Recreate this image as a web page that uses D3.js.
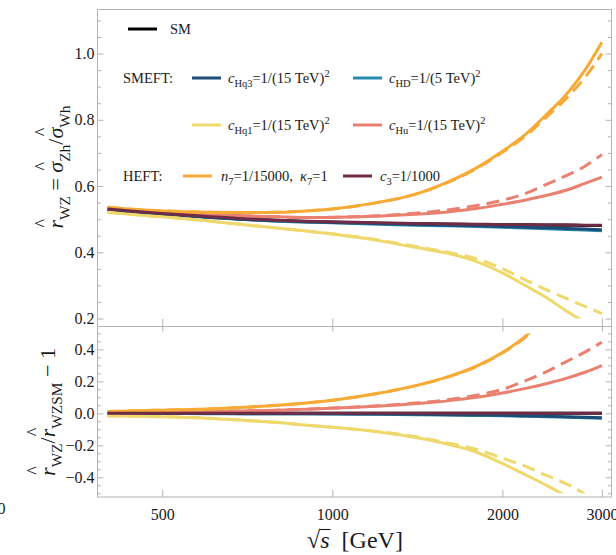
<!DOCTYPE html>
<html>
<head>
<meta charset="utf-8">
<script src="https://cdn.jsdelivr.net/npm/d3@7"></script>
<style>
  html, body { margin: 0; padding: 0; background: #fff; }
  svg { display: block; font-family: "Liberation Serif", "Times New Roman", serif; }
</style>
</head>
<body>
<svg id="chart" width="616" height="555"></svg>
<script>
// Centre-of-mass energies (GeV) at which every curve is tabulated
const energies = [400, 450, 500, 600, 700, 800, 900, 1000, 1200, 1400, 1600, 1800, 2000, 2200, 2400, 2600, 2800, 3000];

// Upper panel: r_WZ = sigma_Zh / sigma_Wh
const ratioSM        = [0.530, 0.522, 0.516, 0.507, 0.500, 0.496, 0.493, 0.491, 0.488, 0.486, 0.485, 0.484, 0.483, 0.483, 0.482, 0.482, 0.481, 0.481];
const ratioHD        = [0.529, 0.521, 0.515, 0.506, 0.499, 0.494, 0.491, 0.489, 0.485, 0.482, 0.480, 0.478, 0.476, 0.473, 0.471, 0.469, 0.467, 0.465];
const ratioHq3       = [0.529, 0.521, 0.515, 0.506, 0.499, 0.495, 0.492, 0.490, 0.487, 0.484, 0.482, 0.480, 0.478, 0.476, 0.474, 0.472, 0.470, 0.468];
const ratioHq1       = [0.521, 0.513, 0.507, 0.495, 0.483, 0.473, 0.464, 0.455, 0.436, 0.415, 0.397, 0.372, 0.338, 0.299, 0.262, 0.222, 0.189, null];
const ratioHq1Dashed = [0.521, 0.513, 0.507, 0.495, 0.483, 0.473, 0.464, 0.456, 0.438, 0.418, 0.400, 0.380, 0.351, 0.316, 0.286, 0.260, 0.237, 0.215];
const ratioHu        = [0.532, 0.527, 0.522, 0.515, 0.510, 0.507, 0.505, 0.505, 0.509, 0.515, 0.522, 0.532, 0.545, 0.558, 0.572, 0.588, 0.608, 0.627];
const ratioHuDashed  = [0.532, 0.527, 0.522, 0.515, 0.510, 0.507, 0.505, 0.506, 0.510, 0.518, 0.528, 0.541, 0.557, 0.578, 0.606, 0.632, 0.660, 0.695];
const ratioN7        = [0.536, 0.529, 0.525, 0.521, 0.520, 0.521, 0.525, 0.531, 0.550, 0.575, 0.612, 0.655, 0.705, 0.757, 0.818, 0.878, 0.950, 1.034];
const ratioN7Dashed  = [0.536, 0.529, 0.525, 0.521, 0.520, 0.521, 0.525, 0.531, 0.550, 0.575, 0.611, 0.653, 0.702, 0.752, 0.810, 0.866, 0.928, 1.000];
const ratioC3        = [0.531, 0.523, 0.517, 0.508, 0.501, 0.497, 0.494, 0.492, 0.489, 0.487, 0.486, 0.485, 0.484, 0.484, 0.483, 0.483, 0.482, 0.482];

// Lower panel: relative deviation from the SM ratio
const devSM        = [0, 0, 0, 0, 0, 0, 0, 0, 0, 0, 0, 0, 0, 0, 0, 0, 0, 0];
const devHD        = [0, -0.001, -0.001, -0.002, -0.002, -0.003, -0.003, -0.004, -0.006, -0.008, -0.010, -0.013, -0.015, -0.018, -0.021, -0.024, -0.027, -0.030];
const devHq3       = [0, -0.001, -0.001, -0.001, -0.002, -0.002, -0.002, -0.003, -0.004, -0.006, -0.008, -0.010, -0.012, -0.015, -0.018, -0.021, -0.024, -0.027];
const devHq1       = [-0.015, -0.018, -0.021, -0.030, -0.044, -0.057, -0.074, -0.087, -0.115, -0.150, -0.193, -0.243, -0.313, -0.385, -0.452, -0.520, null, null];
const devHq1Dashed = [-0.015, -0.018, -0.021, -0.030, -0.044, -0.057, -0.074, -0.087, -0.113, -0.145, -0.185, -0.225, -0.280, -0.332, -0.390, -0.442, -0.505, null];
const devHu        = [0.003, 0.005, 0.007, 0.011, 0.015, 0.020, 0.026, 0.032, 0.045, 0.060, 0.078, 0.100, 0.127, 0.156, 0.187, 0.220, 0.257, 0.299];
const devHuDashed  = [0.003, 0.005, 0.007, 0.011, 0.015, 0.020, 0.026, 0.033, 0.047, 0.064, 0.085, 0.113, 0.150, 0.205, 0.262, 0.325, 0.383, 0.445];
const devN7        = [0.012, 0.016, 0.020, 0.027, 0.038, 0.050, 0.065, 0.082, 0.124, 0.172, 0.228, 0.295, 0.380, 0.484, 0.620, null, null, null];
const devN7Dashed  = [0.012, 0.016, 0.020, 0.027, 0.038, 0.050, 0.065, 0.082, 0.124, 0.172, 0.227, 0.293, 0.377, 0.478, 0.610, null, null, null];
const devC3        = [0.001, 0.001, 0.001, 0.001, 0.001, 0.001, 0.001, 0.001, 0.001, 0.001, 0.001, 0.001, 0.001, 0.001, 0.001, 0.001, 0.001, 0.001];

// Tick values and labels
const xTicks = [500, 1000, 2000, 3000];
const topTicks = [0.2, 0.4, 0.6, 0.8, 1.0];
const bottomTicks = [-0.4, -0.2, 0.0, 0.2, 0.4];

// Series colours
const colors = {
  SM: "#000000",
  Hq3: "#1d4c77",
  HD: "#2a8bb0",
  Hq1: "#efd86c",
  Hu: "#e98070",
  N7: "#f8aa36",
  C3: "#6e2c46"
};

// Legend labels (non-breaking spaces keep the wider gaps)
const legendSM = "SM";
const legendSMEFT = "SMEFT:";
const legendHEFT = "HEFT:";
const labelHq3 = [{t: "c", i: 1}, {t: "Hq3", s: "sub"}, {t: "=1/(15\u00a0TeV)"}, {t: "2", s: "sup"}];
const labelHD  = [{t: "c", i: 1}, {t: "HD", s: "sub"}, {t: "=1/(5\u00a0TeV)"}, {t: "2", s: "sup"}];
const labelHq1 = [{t: "c", i: 1}, {t: "Hq1", s: "sub"}, {t: "=1/(15\u00a0TeV)"}, {t: "2", s: "sup"}];
const labelHu  = [{t: "c", i: 1}, {t: "Hu", s: "sub"}, {t: "=1/(15\u00a0TeV)"}, {t: "2", s: "sup"}];
const labelN7  = [{t: "n", i: 1}, {t: "7", s: "sub"}, {t: "=1/15000,\u00a0\u00a0"}, {t: "κ", i: 1}, {t: "7", s: "sub"}, {t: "=1"}];
const labelC3  = [{t: "c", i: 1}, {t: "3", s: "sub"}, {t: "=1/1000"}];

const topAxisLabel = [{t: "r", i: 1, hat: 1}, {t: "WZ", s: "sub"}, {t: "\u00a0=\u00a0"}, {t: "σ", i: 1, hat: 1}, {t: "Zh", s: "sub"}, {t: "/"}, {t: "σ", i: 1, hat: 1}, {t: "Wh", s: "sub"}];
const bottomAxisLabel = [{t: "r", i: 1, hat: 1}, {t: "WZ", s: "sub"}, {t: "/"}, {t: "r", i: 1, hat: 1}, {t: "WZSM", s: "sub"}, {t: "\u00a0−\u00a01"}];
const xAxisLabel = [{t: "√"}, {t: "s", i: 1}, {t: "\u00a0\u00a0[GeV]"}];

// ---------------------------------------------------------------------------
const svg = d3.select("#chart");
const frameColor = "#b3b3b3";
const textColor = "#1a1a1a";

const plotLeft = 97.5, plotRight = 611.5, plotTop = 9.5, plotMid = 326.5, plotBottom = 497;

const x = d3.scaleLog().domain([384, 3120]).range([plotLeft, plotRight]);
const yTop = d3.scaleLinear().domain([0.176, 1.133]).range([plotMid, plotTop]);
const yBot = d3.scaleLinear().domain([-0.523, 0.543]).range([plotBottom, plotMid]);

// Plot ranges used to clip the curves
const topRange = [0.2, 1.133];
const botRange = [-0.5, 0.5];

const defs = svg.append("defs");
defs.append("clipPath").attr("id", "clipTop").append("rect")
  .attr("x", plotLeft).attr("width", plotRight - plotLeft)
  .attr("y", yTop(topRange[1])).attr("height", yTop(topRange[0]) - yTop(topRange[1]));
defs.append("clipPath").attr("id", "clipBot").append("rect")
  .attr("x", plotLeft).attr("width", plotRight - plotLeft)
  .attr("y", yBot(botRange[1])).attr("height", yBot(botRange[0]) - yBot(botRange[1]));

// Rich text: italic pieces, sub- and superscripts
function rich(textSel, parts, size, subScale) {
  const sc = subScale || 0.72;
  let shift = 0, index = 0;
  const hats = [];
  parts.forEach(p => {
    let target = 0, fs = size;
    if (p.s === "sub") { target = size * 0.3; fs = size * sc; }
    if (p.s === "sup") { target = -size * 0.4; fs = size * sc; }
    const ts = textSel.append("tspan").text(p.t).attr("font-size", fs);
    if (target - shift !== 0) ts.attr("dy", target - shift);
    if (p.i) ts.attr("font-style", "italic");
    shift = target;
    if (p.hat) hats.push(index);
    index += p.t.length;
  });
  return hats;
}

// ---------------- curves ----------------
function drawSeries(values, yScale, clipId, color, dashed) {
  const pts = energies.map((e, i) => [e, values[i]]);
  const line = d3.line()
    .defined(d => d[1] !== null)
    .x(d => x(d[0]))
    .y(d => yScale(d[1]))
    .curve(d3.curveMonotoneX);
  svg.append("path")
    .attr("clip-path", `url(#${clipId})`)
    .attr("d", line(pts))
    .attr("fill", "none")
    .attr("stroke", color)
    .attr("stroke-width", 3)
    .attr("stroke-linejoin", "round")
    .attr("stroke-dasharray", dashed ? "13,7" : null);
}

// drawing order: dashed variants under the c3 curve, which sits on top
const topSeries = [
  [ratioSM, colors.SM, false], [ratioHD, colors.HD, false], [ratioHq3, colors.Hq3, false],
  [ratioHq1, colors.Hq1, false], [ratioHq1Dashed, colors.Hq1, true],
  [ratioHu, colors.Hu, false], [ratioHuDashed, colors.Hu, true],
  [ratioN7, colors.N7, false], [ratioN7Dashed, colors.N7, true],
  [ratioC3, colors.C3, false]
];
const botSeries = [
  [devSM, colors.SM, false], [devHD, colors.HD, false], [devHq3, colors.Hq3, false],
  [devHq1, colors.Hq1, false], [devHq1Dashed, colors.Hq1, true],
  [devHu, colors.Hu, false], [devHuDashed, colors.Hu, true],
  [devN7, colors.N7, false], [devN7Dashed, colors.N7, true],
  [devC3, colors.C3, false]
];
topSeries.forEach(s => drawSeries(s[0], yTop, "clipTop", s[1], s[2]));
botSeries.forEach(s => drawSeries(s[0], yBot, "clipBot", s[1], s[2]));

// ---------------- frames ----------------
svg.append("rect").attr("x", plotLeft).attr("y", plotTop).attr("width", plotRight - plotLeft).attr("height", plotMid - plotTop)
  .attr("fill", "none").attr("stroke", frameColor);
svg.append("rect").attr("x", plotLeft).attr("y", plotMid).attr("width", plotRight - plotLeft).attr("height", plotBottom - plotMid)
  .attr("fill", "none").attr("stroke", frameColor);

// ---------------- axes ----------------
function styleAxis(g) {
  g.select(".domain").remove();
  g.selectAll(".tick line").attr("stroke", frameColor);
  g.selectAll(".tick text").attr("fill", textColor)
    .style("font-family", '"Liberation Serif", "Times New Roman", serif').attr("font-size", 16);
}
const fmt = d3.format(".1f");
const isMajor = (v, majors) => majors.some(m => Math.abs(m - v) < 1e-6);

function yAxes(scale, majors, minorFrom, minorTo) {
  const minors = d3.range(minorFrom, minorTo + 1e-6, 0.05).filter(v => !isMajor(v, majors));
  svg.append("g").attr("transform", `translate(${plotLeft},0)`)
    .call(d3.axisLeft(scale).tickValues(minors).tickSizeInner(-3.5).tickSizeOuter(0).tickFormat(""))
    .call(styleAxis);
  svg.append("g").attr("transform", `translate(${plotRight},0)`)
    .call(d3.axisRight(scale).tickValues(minors).tickSizeInner(-3.5).tickSizeOuter(0).tickFormat(""))
    .call(styleAxis);
  svg.append("g").attr("transform", `translate(${plotLeft},0)`)
    .call(d3.axisLeft(scale).tickValues(majors).tickSizeInner(-6).tickSizeOuter(0).tickPadding(3).tickFormat(fmt))
    .call(styleAxis);
  svg.append("g").attr("transform", `translate(${plotRight},0)`)
    .call(d3.axisRight(scale).tickValues(majors).tickSizeInner(-6).tickSizeOuter(0).tickFormat(""))
    .call(styleAxis);
}
yAxes(yTop, topTicks, 0.2, 1.1);
yAxes(yBot, bottomTicks, -0.5, 0.5);

// x ticks: up from the panel boundary, down into the lower panel, up from the bottom edge
svg.append("g").attr("transform", `translate(0,${plotMid})`)
  .call(d3.axisBottom(x).tickValues(xTicks).tickSizeInner(-8).tickSizeOuter(0).tickFormat(""))
  .call(styleAxis);
svg.append("g").attr("transform", `translate(0,${plotMid})`)
  .call(d3.axisBottom(x).tickValues(xTicks).tickSizeInner(5).tickSizeOuter(0).tickFormat(""))
  .call(styleAxis);
svg.append("g").attr("transform", `translate(0,${plotBottom})`)
  .call(d3.axisBottom(x).tickValues(xTicks).tickSizeInner(-7).tickSizeOuter(0).tickPadding(12).tickFormat(d3.format("d")))
  .call(styleAxis);

// partial tick label at the far left edge
svg.append("text").attr("x", 5.5).attr("y", 514).attr("text-anchor", "end")
  .attr("font-size", 16).attr("fill", textColor).text("0");

// ---------------- axis titles ----------------
function rotatedLabel(parts, tx, ty, size) {
  const g = svg.append("g").attr("transform", `translate(${tx},${ty}) rotate(-90)`);
  const t = g.append("text").attr("text-anchor", "middle").attr("fill", textColor).attr("font-size", size);
  const hats = rich(t, parts, size, 0.7);
  const node = t.node();
  hats.forEach(idx => {
    const r = node.getExtentOfChar(idx);
    g.append("text").attr("x", r.x + r.width / 2 + 1).attr("y", -size * 0.66)
      .attr("text-anchor", "middle").attr("font-size", size * 0.82).attr("fill", textColor).text("^");
  });
}
rotatedLabel(topAxisLabel, 63, 167, 22);
rotatedLabel(bottomAxisLabel, 55, 412, 22);

// x title with radical
(function () {
  const size = 24;
  const t = svg.append("text").attr("x", 355).attr("y", 548).attr("text-anchor", "middle")
    .attr("fill", textColor).attr("font-size", size);
  rich(t, xAxisLabel, size);
  const node = t.node();
  const r0 = node.getExtentOfChar(0), r1 = node.getExtentOfChar(1);
  svg.append("line").attr("x1", r0.x + r0.width - 1).attr("x2", r1.x + r1.width + 1)
    .attr("y1", r0.y + 2.5).attr("y2", r0.y + 2.5).attr("stroke", textColor).attr("stroke-width", 1.1);
})();

// ---------------- legend ----------------
const legendSize = 14.5;
function legendLine(x1, y, color) {
  svg.append("line").attr("x1", x1).attr("x2", x1 + 29).attr("y1", y).attr("y2", y)
    .attr("stroke", color).attr("stroke-width", 3);
}
function legendText(xPos, y, parts) {
  const t = svg.append("text").attr("x", xPos).attr("y", y).attr("fill", textColor).attr("font-size", legendSize);
  rich(t, parts, legendSize);
}
legendLine(128, 29, colors.SM);
legendText(170, 34, [{t: legendSM}]);

legendText(123, 82.5, [{t: legendSMEFT}]);
legendLine(192, 78, colors.Hq3);  legendText(228, 82.5, labelHq3);
legendLine(353, 78, colors.HD);   legendText(389, 82.5, labelHD);
legendLine(192, 125, colors.Hq1); legendText(228, 129.5, labelHq1);
legendLine(353, 125, colors.Hu);  legendText(389, 129.5, labelHu);

legendText(123, 180.5, [{t: legendHEFT}]);
legendLine(183, 176, colors.N7);  legendText(221, 180.5, labelN7);
legendLine(343, 176, colors.C3);  legendText(380, 180.5, labelC3);
</script>
</body>
</html>
